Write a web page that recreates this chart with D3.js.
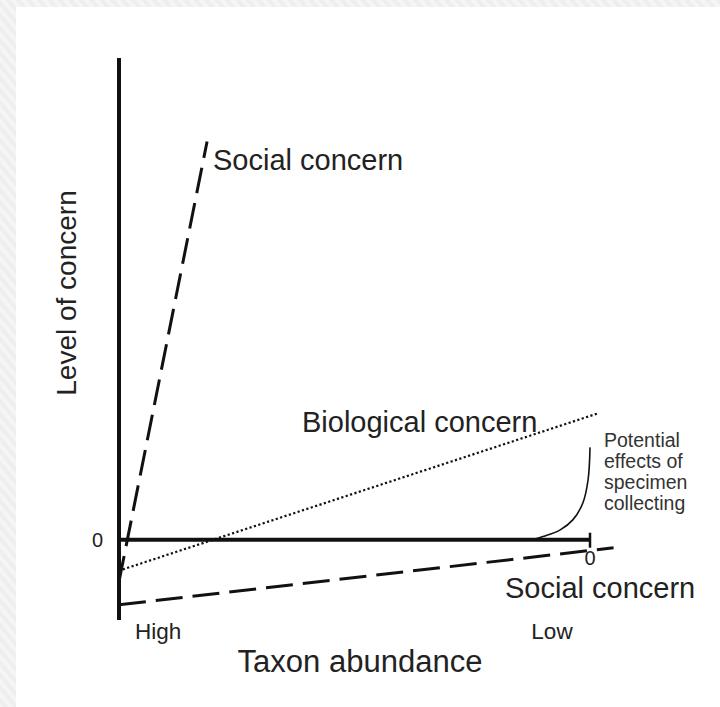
<!DOCTYPE html>
<html>
<head>
<meta charset="utf-8">
<script src="https://cdn.jsdelivr.net/npm/d3@7"></script>
<style>
  html, body { margin: 0; padding: 0; background: #fff; }
  svg { display: block; font-family: 'Liberation Sans', Arial, sans-serif; }
</style>
</head>
<body>
<svg id="chart" width="720" height="707"></svg>
<script>
'use strict';

// x is taxon abundance (0 = High, 10 = Low), y is level of concern (0 = the axis)
const socialUpper = [[0, -0.52], [1.87, 4.96]];
const biological = [[0.08, -0.37], [10.15, 1.57]];
const socialLower = [[0, -0.81], [10.5, -0.1]];
const collecting = [[10, 1.15], [9.96, 0.75], [9.85, 0.46], [9.64, 0.25], [9.36, 0.12], [9.0, 0.04], [8.83, 0.01]];

const xTicks = [0, 10];
const xTickLabels = ['High', 'Low'];
const yTicks = [0];
const yTickLabels = ['0'];
const noteLines = ['Potential', 'effects of', 'specimen', 'collecting'];

const svg = d3.select('#chart');

// striped grey frame behind a white panel
const defs = svg.append('defs');
const pat = defs.append('pattern')
  .attr('id', 'stripes')
  .attr('width', 8)
  .attr('height', 8)
  .attr('patternUnits', 'userSpaceOnUse')
  .attr('patternTransform', 'rotate(-40)');
pat.append('rect').attr('width', 8).attr('height', 8).attr('fill', '#eeeeee');
pat.append('rect').attr('width', 4).attr('height', 8).attr('fill', '#f5f5f5');
svg.append('rect').attr('width', 720).attr('height', 707).attr('fill', 'url(#stripes)');
svg.append('rect').attr('x', 16).attr('y', 7).attr('width', 704).attr('height', 700).attr('fill', '#fff');

const x = d3.scaleLinear().domain([0, 10]).range([119, 590]);
const y = d3.scaleLinear().domain([-1, 6]).range([620, 58]);

const line = d3.line().x((d) => x(d[0])).y((d) => y(d[1]));

// axes
svg.append('line')
  .attr('x1', x(0)).attr('x2', x(0))
  .attr('y1', y(-1)).attr('y2', y(6))
  .attr('stroke', '#111').attr('stroke-width', 4);
svg.append('line')
  .attr('x1', x(0)).attr('x2', x(10))
  .attr('y1', y(0)).attr('y2', y(0))
  .attr('stroke', '#111').attr('stroke-width', 4);
// end tick of the abundance axis
svg.append('line')
  .attr('x1', x(10)).attr('x2', x(10))
  .attr('y1', y(0) - 7).attr('y2', y(0) + 8)
  .attr('stroke', '#111').attr('stroke-width', 2.5);

// concern lines
svg.append('path')
  .attr('d', line(socialUpper))
  .attr('fill', 'none').attr('stroke', '#111')
  .attr('stroke-width', 3).attr('stroke-dasharray', '26 10');
svg.append('path')
  .attr('d', line(socialLower))
  .attr('fill', 'none').attr('stroke', '#111')
  .attr('stroke-width', 3).attr('stroke-dasharray', '27 10');
svg.append('path')
  .attr('d', line(biological))
  .attr('fill', 'none').attr('stroke', '#111')
  .attr('stroke-width', 2.2).attr('stroke-dasharray', '2.2 2.4');
svg.append('path')
  .attr('d', line.curve(d3.curveCatmullRom)(collecting))
  .attr('fill', 'none').attr('stroke', '#111')
  .attr('stroke-width', 1.6);

// tick labels
yTicks.forEach((t, i) => {
  svg.append('text')
    .attr('x', x(0) - 16).attr('y', y(t) + 7)
    .attr('text-anchor', 'end')
    .attr('font-size', 20).attr('fill', '#222')
    .text(yTickLabels[i]);
});
svg.append('text')
  .attr('x', x(10)).attr('y', y(0) + 25)
  .attr('text-anchor', 'middle')
  .attr('font-size', 20).attr('fill', '#222')
  .text(yTickLabels[0]);
xTicks.forEach((t, i) => {
  svg.append('text')
    .attr('x', i === 0 ? x(t) + 16 : x(t) - 38).attr('y', y(-1) + 19)
    .attr('text-anchor', i === 0 ? 'start' : 'middle')
    .attr('font-size', 22.5).attr('fill', '#222')
    .text(xTickLabels[i]);
});

// axis titles
svg.append('text')
  .attr('x', 360).attr('y', 672)
  .attr('text-anchor', 'middle')
  .attr('font-size', 31).attr('fill', '#222')
  .text('Taxon abundance');
svg.append('text')
  .attr('transform', 'translate(76,293) rotate(-90)')
  .attr('text-anchor', 'middle')
  .attr('font-size', 28).attr('fill', '#222')
  .text('Level of concern');

// line labels
svg.append('text')
  .attr('x', 213).attr('y', 170)
  .attr('font-size', 29).attr('fill', '#222')
  .text('Social concern');
svg.append('text')
  .attr('x', 302).attr('y', 432)
  .attr('font-size', 29).attr('fill', '#222')
  .text('Biological concern');
svg.append('text')
  .attr('x', 505).attr('y', 598)
  .attr('font-size', 29).attr('fill', '#222')
  .text('Social concern');

// note beside the curve
noteLines.forEach((t, i) => {
  svg.append('text')
    .attr('x', 604).attr('y', 447 + i * 21)
    .attr('font-size', 19.5).attr('fill', '#333')
    .text(t);
});
</script>
</body>
</html>
